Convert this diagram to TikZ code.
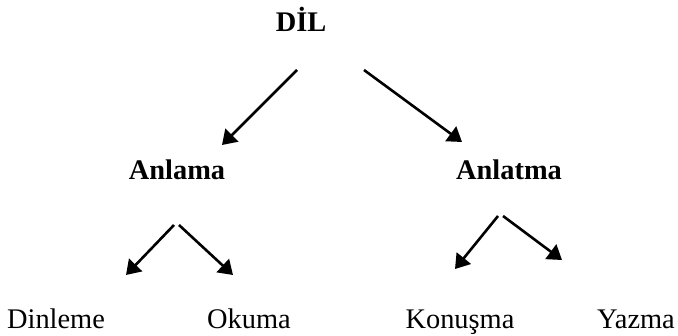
\documentclass[tikz,border=0pt]{standalone}
\usepackage{fontspec}
\setmainfont{Liberation Serif}
\usepackage{tikz}
\usetikzlibrary{arrows.meta}
\tikzstyle{term} = [inner sep=0pt, anchor=base, font=\fontsize{14.2}{17}\selectfont]
\tikzstyle{head} = [term, font=\fontsize{14.2}{17}\selectfont\bfseries]
\tikzstyle{line} = [draw, line width=1.3pt, -{Triangle[length=7pt,width=9pt]}]

\begin{document}
\begin{tikzpicture}[x=0.5pt, y=-0.5pt]
\useasboundingbox (0,0) rectangle (678,336);
\node [head] (dil) at (301,32) {DİL};
\node [head] (anlama) at (177,179) {Anlama};
\node [head] (anlatma) at (509,179) {Anlatma};
\node [term] (dinleme) at (56,328) {Dinleme};
\node [term] (okuma) at (249,328) {Okuma};
\node [term] (konusma) at (460,328) {Konuşma};
\node [term] (yazma) at (636,328) {Yazma};
% free ends of the arrows
\coordinate (dil-l) at (297,70);
\coordinate (dil-r) at (364,70);
\coordinate (anlama-in) at (222,145);
\coordinate (anlatma-in) at (462,142);
\coordinate (anlama-l) at (174,225);
\coordinate (anlama-r) at (179,225);
\coordinate (dinleme-in) at (126,275);
\coordinate (okuma-in) at (233,275);
\coordinate (anlatma-l) at (498,216);
\coordinate (anlatma-r) at (503,216);
\coordinate (konusma-in) at (455,269);
\coordinate (yazma-in) at (562,260);
\path [line] (dil-l) -- (anlama-in);
\path [line] (dil-r) -- (anlatma-in);
\path [line] (anlama-l) -- (dinleme-in);
\path [line] (anlama-r) -- (okuma-in);
\path [line] (anlatma-l) -- (konusma-in);
\path [line] (anlatma-r) -- (yazma-in);
\end{tikzpicture}
\end{document}
